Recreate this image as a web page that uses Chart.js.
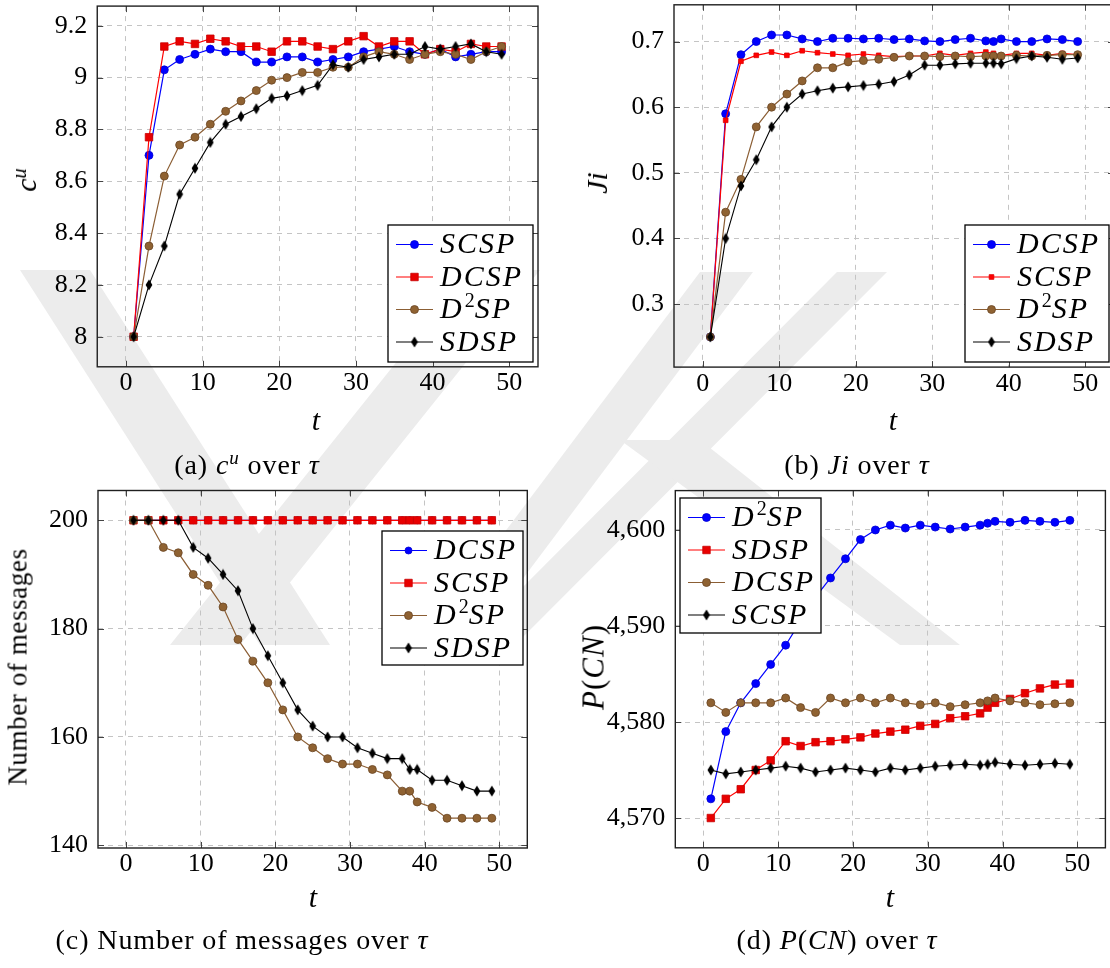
<!DOCTYPE html>
<html lang="en">
<head>
<meta charset="utf-8">
<title>Convergence of SCSP, DCSP, D²SP and SDSP over τ</title>
<script src="https://cdn.jsdelivr.net/npm/chart.js@4.4.1/dist/chart.umd.min.js"></script>
<style>
  html, body { margin:0; padding:0; background:#fff; }
  body { width:1110px; height:968px; overflow:hidden; position:relative; }
  svg.mark { position:absolute; left:0; top:0; }
  canvas.panel { position:absolute; left:0; top:0; }
  .txt { position:absolute; font-family:"Liberation Serif","Times New Roman",serif; color:#000;
         white-space:nowrap; transform:translate(-50%,-50%); line-height:1; }
  .rot { transform:translate(-50%,-50%) rotate(-90deg); }
  .cap { font-size:28px; letter-spacing:0.9px; }
  .txt i { font-style:italic; }
  .txt sup { font-size:0.68em; vertical-align:0.5em; line-height:0; }
</style>
</head>
<body>
<!-- faint page emblem behind the figure -->
<svg class="mark" width="1110" height="968" viewBox="0 0 1110 968">
  <g fill="#ececec">
    <polygon points="20,270 90,270 330,645 260,645"/>
    <polygon points="470,270 540,270 240,645 170,645"/>
    <polygon points="700,272 753,272 473,645 420,645"/>
    <polygon points="837,272 887,272 515,645 465,645"/>
    <polygon points="620,440 700,440 960,645 900,645"/>
  </g>
</svg>

<canvas class="panel" id="pa" width="1120" height="968"></canvas>
<canvas class="panel" id="pb" width="1120" height="968"></canvas>
<canvas class="panel" id="pc" width="1120" height="968"></canvas>
<canvas class="panel" id="pd" width="1120" height="968"></canvas>

<!-- axis titles -->
<div class="txt" style="left:316px;top:420px;font-size:30px"><i>t</i></div>
<div class="txt" style="left:893px;top:420px;font-size:30px"><i>t</i></div>
<div class="txt" style="left:313px;top:897px;font-size:30px"><i>t</i></div>
<div class="txt" style="left:890px;top:897px;font-size:30px"><i>t</i></div>
<div class="txt rot" style="left:26px;top:180px;font-size:30px"><i>c</i><sup><i>u</i></sup></div>
<div class="txt rot" style="left:597px;top:183px;font-size:30px"><i>Ji</i></div>
<div class="txt rot" style="left:18px;top:667px;font-size:27px;letter-spacing:0.6px">Number of messages</div>
<div class="txt rot" style="left:593px;top:667px;font-size:31px;letter-spacing:1px"><i>P</i>(<i>CN</i>)</div>

<!-- sub-figure captions -->
<div class="txt cap" style="left:247px;top:465px">(a) <i>c</i><sup><i>u</i></sup> over <i>τ</i></div>
<div class="txt cap" style="left:857px;top:465px">(b) <i>Ji</i> over <i>τ</i></div>
<div class="txt cap" style="left:242px;top:940px">(c) Number of messages over <i>τ</i></div>
<div class="txt cap" style="left:837px;top:940px">(d) <i>P</i>(<i>CN</i>) over <i>τ</i></div>

<script>
// ---------- time steps ----------
const tOdd = [1, 3, 5, 7, 9, 11, 13, 15, 17, 19, 21, 23, 25, 27, 29, 31, 33, 35, 37, 39, 41, 43, 45, 47, 49];
const tExt = [1, 3, 5, 7, 9, 11, 13, 15, 17, 19, 21, 23, 25, 27, 29, 31, 33, 35, 37, 38, 39, 41, 43, 45, 47, 49];

// ---------- tick values and labels ----------
const xTicks = [0, 10, 20, 30, 40, 50];
const xTickLabels = ['0', '10', '20', '30', '40', '50'];
const cuTicks = [8, 8.2, 8.4, 8.6, 8.8, 9, 9.2];
const cuTickLabels = ['8', '8.2', '8.4', '8.6', '8.8', '9', '9.2'];
const jiTicks = [0.3, 0.4, 0.5, 0.6, 0.7];
const jiTickLabels = ['0.3', '0.4', '0.5', '0.6', '0.7'];
const msgTicks = [140, 160, 180, 200];
const msgTickLabels = ['140', '160', '180', '200'];
const pcnTicks = [4570, 4580, 4590, 4600];
const pcnTickLabels = ['4,570', '4,580', '4,590', '4,600'];

// ---------- (a) c^u ----------
const cuSCSP = [8.00, 8.70, 9.03, 9.07, 9.09, 9.11, 9.10, 9.10, 9.06, 9.06, 9.08, 9.08, 9.06, 9.07, 9.08, 9.10, 9.11, 9.12, 9.10, 9.09, 9.11, 9.08, 9.09, 9.10, 9.10];
const cuDCSP = [8.00, 8.77, 9.12, 9.14, 9.13, 9.15, 9.14, 9.12, 9.12, 9.10, 9.14, 9.14, 9.12, 9.11, 9.14, 9.16, 9.12, 9.14, 9.14, 9.09, 9.11, 9.10, 9.13, 9.12, 9.12];
const cuD2SP = [8.00, 8.35, 8.62, 8.74, 8.77, 8.82, 8.87, 8.91, 8.95, 8.99, 9.00, 9.02, 9.02, 9.04, 9.04, 9.08, 9.10, 9.09, 9.07, 9.09, 9.10, 9.09, 9.07, 9.10, 9.12];
const cuSDSP = [8.00, 8.20, 8.35, 8.55, 8.65, 8.75, 8.82, 8.85, 8.88, 8.92, 8.93, 8.95, 8.97, 9.05, 9.04, 9.07, 9.08, 9.09, 9.09, 9.12, 9.11, 9.12, 9.13, 9.10, 9.09];

// ---------- (b) Ji ----------
const jiDCSP = [0.25, 0.59, 0.68, 0.70, 0.71, 0.71, 0.704, 0.70, 0.705, 0.705, 0.704, 0.705, 0.703, 0.704, 0.701, 0.700, 0.703, 0.705, 0.701, 0.700, 0.704, 0.700, 0.700, 0.704, 0.703, 0.700];
const jiSCSP = [0.25, 0.58, 0.67, 0.679, 0.684, 0.679, 0.686, 0.683, 0.681, 0.679, 0.681, 0.679, 0.677, 0.678, 0.678, 0.682, 0.679, 0.682, 0.684, 0.682, 0.679, 0.682, 0.682, 0.679, 0.682, 0.680];
const jiD2SP = [0.25, 0.44, 0.49, 0.57, 0.60, 0.62, 0.64, 0.66, 0.66, 0.669, 0.671, 0.673, 0.676, 0.678, 0.678, 0.677, 0.678, 0.677, 0.678, 0.678, 0.678, 0.679, 0.678, 0.679, 0.680, 0.680];
const jiSDSP = [0.25, 0.40, 0.48, 0.52, 0.57, 0.60, 0.62, 0.625, 0.629, 0.631, 0.633, 0.635, 0.639, 0.649, 0.664, 0.664, 0.666, 0.667, 0.667, 0.667, 0.666, 0.674, 0.678, 0.676, 0.673, 0.675];

// ---------- (c) number of messages ----------
const msgDCSP = [200, 200, 200, 200, 200, 200, 200, 200, 200, 200, 200, 200, 200, 200, 200, 200, 200, 200, 200, 200, 200, 200, 200, 200, 200, 200];
const msgSCSP = [200, 200, 200, 200, 200, 200, 200, 200, 200, 200, 200, 200, 200, 200, 200, 200, 200, 200, 200, 200, 200, 200, 200, 200, 200, 200];
const msgD2SP = [200, 200, 195, 194, 190, 188, 184, 178, 174, 170, 165, 160, 158, 156, 155, 155, 154, 153, 150, 150, 148, 147, 145, 145, 145, 145];
const msgSDSP = [200, 200, 200, 200, 195, 193, 190, 187, 180, 175, 170, 165, 162, 160, 160, 158, 157, 156, 156, 154, 154, 152, 152, 151, 150, 150];

// ---------- (d) P(CN) ----------
const pcnD2SP = [4572, 4579, 4582, 4584, 4586, 4588, 4590.5, 4593, 4595, 4597, 4599, 4600, 4600.5, 4600.2, 4600.5, 4600.3, 4600.1, 4600.3, 4600.5, 4600.7, 4600.9, 4600.8, 4601.0, 4600.9, 4600.8, 4601.0];
const pcnSDSP = [4570, 4572, 4573, 4575, 4576, 4578, 4577.5, 4577.9, 4578, 4578.2, 4578.4, 4578.8, 4579, 4579.2, 4579.6, 4579.8, 4580.4, 4580.6, 4580.9, 4581.5, 4582, 4582.4, 4583, 4583.5, 4583.9, 4584];
const pcnDCSP = [4582, 4581, 4582, 4582, 4582, 4582.5, 4581.5, 4581, 4582.5, 4582, 4582.5, 4582, 4582.5, 4582, 4581.8, 4582, 4581.6, 4581.8, 4582, 4582.2, 4582.5, 4582.2, 4582, 4581.8, 4581.9, 4582];
const pcnSCSP = [4575, 4574.6, 4574.8, 4575, 4575.2, 4575.4, 4575.2, 4574.8, 4575, 4575.2, 4575, 4574.8, 4575.2, 4575, 4575.2, 4575.4, 4575.5, 4575.6, 4575.5, 4575.6, 4575.8, 4575.6, 4575.5, 4575.6, 4575.7, 4575.6];

// ---------- drawing helpers ----------
const SERIF = '"Liberation Serif", "Times New Roman", serif';
const CW = 1120, CH = 968, YW = 90, XH = 50;

function diamondImage(color) {
  const c = document.createElement('canvas');
  c.width = 8; c.height = 12;
  const g = c.getContext('2d');
  g.fillStyle = color;
  g.beginPath();
  g.moveTo(4, 0.5); g.lineTo(7.4, 6); g.lineTo(4, 11.5); g.lineTo(0.6, 6);
  g.closePath(); g.fill();
  return c;
}
const DIAMOND = diamondImage('#000');

const STYLES = {
  blue:      { line: '#0000ff', fill: '#0000ff', edge: '#0000d0', point: 'circle', r: 4, lw: 1.2 },
  blueSmall: { line: '#0000ff', fill: '#0000ff', edge: '#0000d0', point: 'circle', r: 3.5, lw: 1.2 },
  red:       { line: '#ff0000', fill: '#e80000', edge: '#c80000', point: 'rect', r: 5.3, lw: 1.2 },
  redSmall:  { line: '#ff0000', fill: '#ff0000', edge: '#e00000', point: 'rect', r: 3.3, lw: 1.2 },
  brown:     { line: '#8b5e34', fill: '#8f6232', edge: '#6a4523', point: 'circle', r: 4, lw: 1.2 },
  black:     { line: '#000000', fill: '#000000', edge: '#000000', point: DIAMOND, r: 4, lw: 1.1 }
};

// draws labels such as "D²SP" in math italic with an upright raised 2
function drawMathLabel(ctx, text, x, y) {
  ctx.textBaseline = 'middle';
  ctx.textAlign = 'left';
  ctx.fillStyle = '#000';
  let cx = x;
  for (const ch of text) {
    if (ch === '²') {
      ctx.font = '20px ' + SERIF;
      ctx.letterSpacing = '0px';
      ctx.fillText('2', cx + 1, y - 9);
      cx += ctx.measureText('2').width + 1;
    } else {
      ctx.font = 'italic 30px ' + SERIF;
      ctx.letterSpacing = '2px';
      ctx.fillText(ch, cx, y);
      cx += ctx.measureText(ch).width;
    }
  }
  ctx.letterSpacing = '0px';
}

const framePlugin = {
  id: 'frame',
  beforeDatasetsDraw(chart) {
    const { ctx, chartArea: a, scales: { x, y } } = chart;
    ctx.save();
    ctx.strokeStyle = '#444';
    ctx.lineWidth = 1;
    ctx.beginPath();
    x.ticks.forEach(t => {
      const px = Math.round(x.getPixelForValue(t.value)) + 0.5;
      ctx.moveTo(px, a.bottom); ctx.lineTo(px, a.bottom - 6);
      ctx.moveTo(px, a.top); ctx.lineTo(px, a.top + 6);
    });
    y.ticks.forEach(t => {
      const py = Math.round(y.getPixelForValue(t.value)) + 0.5;
      ctx.moveTo(a.left, py); ctx.lineTo(a.left + 6, py);
      ctx.moveTo(a.right, py); ctx.lineTo(a.right - 6, py);
    });
    ctx.stroke();
    ctx.strokeStyle = '#202020';
    ctx.lineWidth = 1.4;
    ctx.strokeRect(a.left, a.top, a.right - a.left, a.bottom - a.top);
    ctx.restore();
  }
};

const legendPlugin = {
  id: 'boxLegend',
  afterDatasetsDraw(chart, args, opts) {
    const [bx, by, bw, bh] = opts.box;
    const ctx = chart.ctx;
    ctx.save();
    ctx.fillStyle = '#fff';
    ctx.fillRect(bx, by, bw, bh);
    ctx.strokeStyle = '#000';
    ctx.lineWidth = 1.3;
    ctx.strokeRect(bx, by, bw, bh);
    chart.data.datasets.forEach((d, i) => {
      const cy = by + opts.first + i * opts.step;
      ctx.strokeStyle = d.borderColor;
      ctx.lineWidth = d.borderWidth;
      ctx.beginPath();
      ctx.moveTo(bx + 8, cy); ctx.lineTo(bx + 45, cy);
      ctx.stroke();
      ctx.fillStyle = d.pointBackgroundColor;
      ctx.strokeStyle = d.pointBorderColor;
      ctx.lineWidth = d.pointBorderWidth;
      Chart.helpers.drawPoint(ctx, {
        pointStyle: d.pointStyle, radius: d.pointRadius, rotation: 0, borderWidth: d.pointBorderWidth
      }, bx + 26.5, cy);
      drawMathLabel(ctx, d.label, bx + 52, cy + 1);
    });
    ctx.restore();
  }
};

function axis(min, max, ticks, labels, horizontal) {
  return {
    type: 'linear', min, max,
    afterBuildTicks: s => { s.ticks = ticks.map(v => ({ value: v })); },
    afterFit: s => {
      if (horizontal) { s.height = XH; } else { s.width = YW; }
      s.paddingLeft = 0; s.paddingRight = 0; s.paddingTop = 0; s.paddingBottom = 0;
    },
    ticks: {
      padding: horizontal ? 1 : 10, color: '#000', autoSkip: false, maxRotation: 0,
      font: { family: SERIF, size: 26 },
      callback: (v, i) => labels[i]
    },
    grid: { color: '#c4c4c4', lineWidth: 1, drawTicks: false },
    border: { display: false, dash: [5, 5] }
  };
}

function panel(p) {
  const [L, T, R, B] = p.area;
  const n = p.series.length;
  const datasets = p.series.map((s, i) => ({
    label: s.label,
    data: s.values.map((v, k) => ({ x: p.t[k], y: v })),
    borderColor: s.style.line,
    borderWidth: s.style.lw,
    pointStyle: s.style.point,
    pointRadius: s.style.r,
    pointBackgroundColor: s.style.fill,
    pointBorderColor: s.style.edge,
    pointBorderWidth: 0.8,
    tension: 0, fill: false, clip: false,
    order: n - i
  }));
  return new Chart(document.getElementById(p.id), {
    type: 'line',
    data: { datasets },
    options: {
      responsive: false, animation: false, events: [],
      layout: { padding: { left: L - YW, top: T, right: CW - R, bottom: CH - B - XH } },
      plugins: {
        legend: { display: false }, tooltip: { enabled: false },
        boxLegend: { box: p.legend, first: 19.5, step: 32.5 }
      },
      scales: {
        x: axis(-3.75, 53.75, xTicks, xTickLabels, true),
        y: axis(p.y[0], p.y[1], p.yTicks, p.yLabels, false)
      }
    },
    plugins: [framePlugin, legendPlugin]
  });
}

panel({
  id: 'pa', area: [97.25, 0.7, 538.0, 366.8], t: tOdd, y: [7.884, 9.276],
  yTicks: cuTicks, yLabels: cuTickLabels, legend: [388, 225, 145, 137],
  series: [
    { label: 'SCSP', values: cuSCSP, style: STYLES.blue },
    { label: 'DCSP', values: cuDCSP, style: STYLES.red },
    { label: 'D²SP', values: cuD2SP, style: STYLES.brown },
    { label: 'SDSP', values: cuSDSP, style: STYLES.black }
  ]
});
panel({
  id: 'pb', area: [674.0, 0.5, 1114.0, 367.1], t: tExt, y: [0.204, 0.756],
  yTicks: jiTicks, yLabels: jiTickLabels, legend: [965, 225, 144, 137],
  series: [
    { label: 'DCSP', values: jiDCSP, style: STYLES.blue },
    { label: 'SCSP', values: jiSCSP, style: STYLES.redSmall },
    { label: 'D²SP', values: jiD2SP, style: STYLES.brown },
    { label: 'SDSP', values: jiSDSP, style: STYLES.black }
  ]
});
panel({
  id: 'pc', area: [98.0, 490.5, 527.3, 848.0], t: tExt, y: [139.5, 205.5],
  yTicks: msgTicks, yLabels: msgTickLabels, legend: [382, 531, 141, 134],
  series: [
    { label: 'DCSP', values: msgDCSP, style: STYLES.blueSmall },
    { label: 'SCSP', values: msgSCSP, style: STYLES.red },
    { label: 'D²SP', values: msgD2SP, style: STYLES.brown },
    { label: 'SDSP', values: msgSDSP, style: STYLES.black }
  ]
});
panel({
  id: 'pd', area: [675.3, 490.6, 1105.4, 847.8], t: tExt, y: [4566.9, 4604.1],
  yTicks: pcnTicks, yLabels: pcnTickLabels, legend: [680, 498, 141, 135],
  series: [
    { label: 'D²SP', values: pcnD2SP, style: STYLES.blue },
    { label: 'SDSP', values: pcnSDSP, style: STYLES.red },
    { label: 'DCSP', values: pcnDCSP, style: STYLES.brown },
    { label: 'SCSP', values: pcnSCSP, style: STYLES.black }
  ]
});
</script>
</body>
</html>
